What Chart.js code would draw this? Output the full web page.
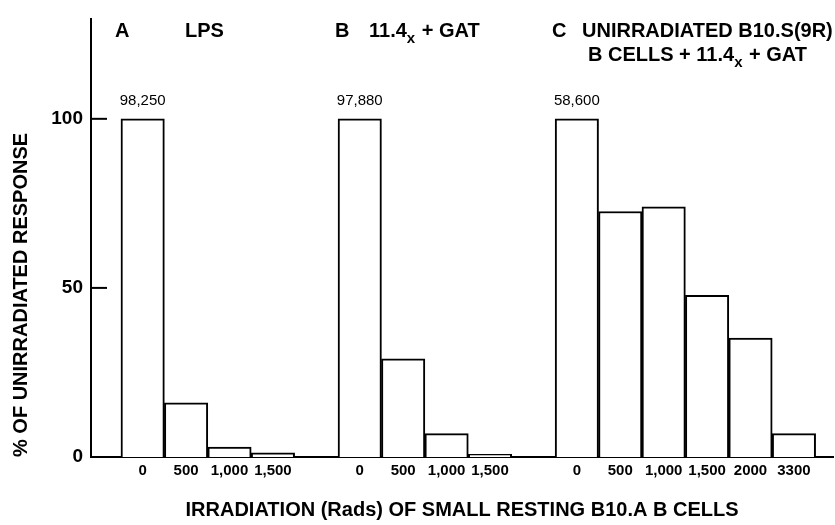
<!DOCTYPE html>
<html>
<head>
<meta charset="utf-8">
<script src="https://cdn.jsdelivr.net/npm/chart.js@4"></script>
<style>
  html, body { margin: 0; padding: 0; background: #fff; }
</style>
</head>
<body>
<canvas id="chart" width="835" height="525"></canvas>
<script>
// irradiation doses (x tick labels) and % of unirradiated response, one pair per panel
const doseA = ['0', '500', '1,000', '1,500'];
const responseA = [100, 16, 2.9, 1.2];

const doseB = ['0', '500', '1,000', '1,500'];
const responseB = [100, 29, 6.9, 0.8];

const doseC = ['0', '500', '1,000', '1,500', '2000', '3300'];
const responseC = [100, 72.6, 74, 47.8, 35.2, 6.9];

// cpm of the unirradiated control in each panel
const controlCpm = ['98,250', '97,880', '58,600'];

const yTicks = [0, 50, 100];

const SANS = '"Liberation Sans", Arial, sans-serif';

// build one x slot per bar, with an empty slot between panels
const groups = [
    { doses: doseA, values: responseA },
    { doses: doseB, values: responseB },
    { doses: doseC, values: responseC },
];
const points = [];
const tickText = {};
const groupStart = [];
let slot = 0;
groups.forEach(g => {
    groupStart.push(slot);
    g.doses.forEach((d, i) => {
        points.push({ x: slot, y: g.values[i] });
        tickText[slot] = d;
        slot++;
    });
    slot++;
});

// text with a subscript part: [text, isSub]
function drawParts(ctx, x, y, parts) {
    parts.forEach(([text, sub]) => {
        ctx.font = sub ? 'bold 15px ' + SANS : 'bold 20px ' + SANS;
        ctx.fillText(text, x, y + (sub ? 6 : 0));
        x += ctx.measureText(text).width + (sub ? 1 : 0);
    });
}

const annotations = {
    id: 'annotations',
    afterDraw(chart) {
        const { ctx, chartArea, scales: { x, y } } = chart;
        ctx.save();
        ctx.strokeStyle = '#000';
        ctx.fillStyle = '#000';
        ctx.lineWidth = 2;

        // tick marks point into the plot
        yTicks.forEach(v => {
            if (v === 0) return;
            const py = y.getPixelForValue(v);
            ctx.beginPath();
            ctx.moveTo(chartArea.left, py);
            ctx.lineTo(chartArea.left + 16, py);
            ctx.stroke();
        });

        // control counts above the 0 rad bars
        ctx.font = '15px ' + SANS;
        ctx.textAlign = 'center';
        ctx.textBaseline = 'alphabetic';
        groupStart.forEach((s, i) => {
            const px = x.getPixelForValue(s);
            const py = y.getPixelForValue(groups[i].values[0]);
            ctx.fillText(controlCpm[i], px, py - 14);
        });

        // panel headings
        ctx.textAlign = 'left';
        drawParts(ctx, 115, 37, [['A']]);
        drawParts(ctx, 185, 37, [['LPS']]);
        drawParts(ctx, 335, 37, [['B']]);
        drawParts(ctx, 369, 37, [['11.4'], ['x', true], [' + GAT']]);
        drawParts(ctx, 552, 37, [['C']]);
        drawParts(ctx, 582, 37, [['UNIRRADIATED B10.S(9R)']]);
        drawParts(ctx, 588, 61, [['B CELLS + 11.4'], ['x', true], [' + GAT']]);
        ctx.restore();
    }
};

new Chart(document.getElementById('chart'), {
    type: 'bar',
    data: {
        datasets: [{
            data: points,
            backgroundColor: '#fff',
            borderColor: '#000',
            borderWidth: 2,
            barPercentage: 1,
            categoryPercentage: 1,
        }]
    },
    options: {
        responsive: false,
        animation: false,
        layout: { padding: { top: 8, right: 2, left: 0, bottom: 0 } },
        plugins: {
            legend: { display: false },
            tooltip: { enabled: false },
        },
        scales: {
            x: {
                type: 'linear',
                offset: false,
                min: -1.19,
                max: 15.9,
                afterBuildTicks: s => { s.ticks = points.map(p => ({ value: p.x })); },
                afterFit: s => { s.height = 68; },
                grid: { display: false, drawTicks: false },
                border: { display: true, color: '#000', width: 2 },
                ticks: {
                    autoSkip: false,
                    maxRotation: 0,
                    padding: 5,
                    color: '#000',
                    font: { family: SANS, size: 15, weight: 'bold' },
                    callback: v => tickText[v] ?? '',
                },
                title: {
                    display: true,
                    text: 'IRRADIATION (Rads) OF SMALL RESTING B10.A B CELLS',
                    color: '#000',
                    font: { family: SANS, size: 20, weight: 'bold' },
                    padding: { top: 0, bottom: 3 },
                },
            },
            y: {
                min: 0,
                max: 129.4,
                afterBuildTicks: s => { s.ticks = yTicks.map(v => ({ value: v })); },
                afterFit: s => { s.width = 91; },
                grid: { display: false, drawTicks: false },
                border: { display: true, color: '#000', width: 2 },
                ticks: {
                    padding: 8,
                    color: '#000',
                    font: { family: SANS, size: 19, weight: 'bold' },
                },
                title: {
                    display: true,
                    text: '% OF UNIRRADIATED RESPONSE',
                    align: 'start',
                    color: '#000',
                    font: { family: SANS, size: 20, weight: 'bold' },
                    padding: { top: 9, bottom: 0 },
                },
            },
        },
    },
    plugins: [annotations],
});
</script>
</body>
</html>
